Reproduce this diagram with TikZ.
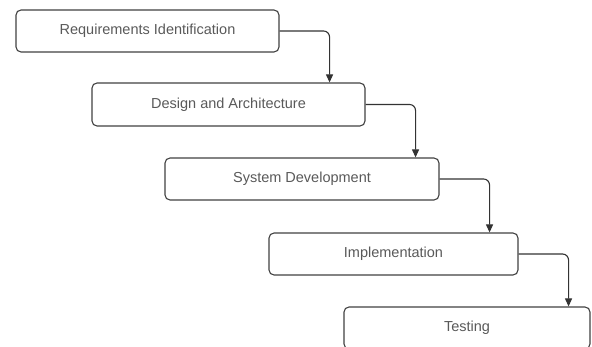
\documentclass[tikz,border=0pt]{standalone}
\usepackage{fontspec}
\setmainfont{Liberation Sans}
\usetikzlibrary{arrows.meta}

\begin{document}
\begin{tikzpicture}[x=1pt,y=-1pt,
            stage/.style={draw=black!75,line width=1.1pt,rounded corners=5pt,minimum height=42pt,inner sep=0pt,text=black!65,font=\fontsize{14.5}{16}\selectfont},
            flow/.style={draw=black!80,line width=1.1pt,rounded corners=6pt,-{Triangle[length=8pt,width=7pt]}}]
            \useasboundingbox (0,0) rectangle (592,347);
            \clip (0,0) rectangle (592,347);

            \node[stage,minimum width=263pt] (req) at (147.5,31){Requirements Identification};
            \node[stage,minimum width=273pt,minimum height=43pt] (des) at (228.5,104.5){Design and Architecture};
            \node[stage,minimum width=274pt] (sys) at (302,179){System Development};
            \node[stage,minimum width=249pt] (imp) at (393.5,254){Implementation};
            \node[stage,minimum width=246pt] (tst) at (467,328){Testing};

            \draw[flow] (req.east) -| ([xshift=50pt]req.east |- des.north);
            \draw[flow] (des.east) -| ([xshift=50pt]des.east |- sys.north);
            \draw[flow] (sys.east) -| ([xshift=50pt]sys.east |- imp.north);
            \draw[flow] (imp.east) -| ([xshift=50pt]imp.east |- tst.north);
\end{tikzpicture}
\end{document}
